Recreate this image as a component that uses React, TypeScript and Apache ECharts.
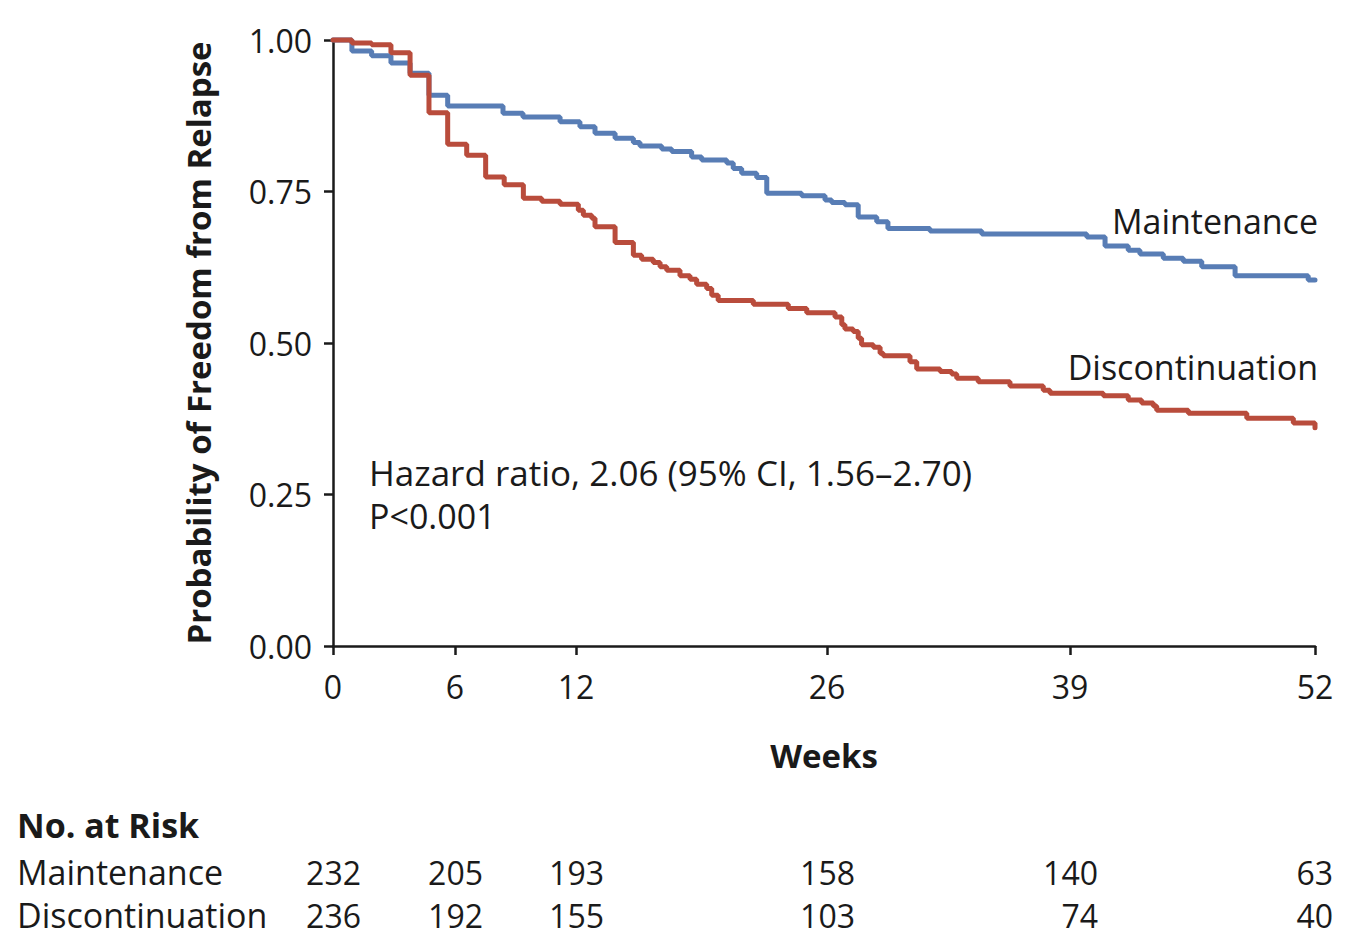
import React, { useEffect, useRef } from "react";
import * as echarts from "echarts";

// ---- data ----
const WEEK_TICKS = [0, 6, 12, 26, 39, 52];
const Y_TICKS = [0, 0.25, 0.5, 0.75, 1];

const MAINT_WEEKS = [0, 0.93, 1.9, 2.85, 3.79, 4.72, 5.64, 8.38, 9.37, 11.21, 12.22, 13.06, 14.18, 15.2, 15.57, 16.78, 17.34, 18.45, 19.01, 20.41, 20.77, 21.24, 22.08, 22.64, 24.59, 25.89, 26.25, 26.96, 27.67, 28.66, 29.26, 31.51, 34.28, 39.89, 40.86, 42.09, 42.71, 43.95, 45.01, 45.99, 47.76, 51.64, 52];
const MAINT_SURV = [1, 0.982, 0.974, 0.962, 0.945, 0.909, 0.891, 0.879, 0.873, 0.865, 0.857, 0.846, 0.838, 0.831, 0.825, 0.82, 0.816, 0.807, 0.802, 0.797, 0.788, 0.78, 0.773, 0.747, 0.743, 0.736, 0.732, 0.728, 0.708, 0.7, 0.689, 0.685, 0.68, 0.675, 0.66, 0.653, 0.647, 0.64, 0.635, 0.626, 0.611, 0.604, 0.604];

const DISC_WEEKS = [0, 0.93, 1.9, 2.85, 3.79, 4.72, 5.64, 6.58, 7.52, 8.44, 9.39, 10.3, 11.21, 12.13, 12.41, 12.88, 13.06, 14.18, 15.2, 15.66, 16.31, 16.69, 17.06, 17.8, 18.36, 18.73, 19.29, 19.57, 19.93, 21.89, 23.84, 24.87, 26.43, 26.79, 26.96, 27.4, 27.67, 27.85, 28.48, 28.84, 29.01, 30.44, 30.8, 32.05, 32.67, 32.94, 34.09, 35.79, 37.57, 37.93, 40.77, 42.09, 42.8, 43.42, 43.6, 45.28, 48.38, 50.85, 52];
const DISC_SURV = [1, 0.995, 0.992, 0.979, 0.942, 0.88, 0.828, 0.81, 0.774, 0.761, 0.739, 0.734, 0.729, 0.719, 0.711, 0.706, 0.692, 0.666, 0.645, 0.638, 0.633, 0.626, 0.62, 0.611, 0.605, 0.597, 0.59, 0.579, 0.57, 0.564, 0.557, 0.55, 0.543, 0.53, 0.523, 0.519, 0.508, 0.497, 0.493, 0.483, 0.479, 0.469, 0.457, 0.453, 0.449, 0.442, 0.436, 0.429, 0.422, 0.417, 0.413, 0.406, 0.401, 0.396, 0.389, 0.384, 0.376, 0.368, 0.36];

const RISK_MAINT = [232, 205, 193, 158, 140, 63];
const RISK_DISC = [236, 192, 155, 103, 74, 40];

const GROUPS = ["Maintenance", "Discontinuation"];
const Y_TITLE = "Probability of Freedom from Relapse";
const X_TITLE = "Weeks";
const HR_TEXT = "Hazard ratio, 2.06 (95% CI, 1.56\u20132.70)";
const P_TEXT = "P<0.001";
const RISK_TITLE = "No. at Risk";

// ---- layout (axis scale: the printed axis spaces its ticks unevenly) ----
const AXIS_STOPS = [0, 122, 243, 494, 737, 982];
function warp(w: number): number {
  for (let i = 0; i < WEEK_TICKS.length - 1; i++) {
    const a = WEEK_TICKS[i], b = WEEK_TICKS[i + 1];
    if (w <= b || i === WEEK_TICKS.length - 2) {
      return AXIS_STOPS[i] + ((w - a) / (b - a)) * (AXIS_STOPS[i + 1] - AXIS_STOPS[i]);
    }
  }
  return 0;
}

const FONT = '"Open Sans", "Noto Sans", sans-serif';
const INK = "#1a1a1a";
const BLUE = "#587db5";
const RED = "#b94c3c";
const FS = 32;

export default function App() {
  const ref = useRef<HTMLDivElement>(null);
  useEffect(() => {
    if (!ref.current) return;
    const chart = echarts.init(ref.current, null, { renderer: "svg" });
    const tickPos = WEEK_TICKS.map(warp);
    chart.setOption({
      animation: false,
      grid: { left: 333, top: 40, width: 982, height: 606, containLabel: false },
      xAxis: {
        type: "value",
        min: 0,
        max: AXIS_STOPS[AXIS_STOPS.length - 1],
        axisLine: { show: true, onZero: false, lineStyle: { color: INK, width: 2.5 } },
        axisTick: { show: true, customValues: tickPos, length: 9, lineStyle: { color: INK, width: 2.5 } },
        axisLabel: {
          customValues: tickPos,
          margin: 24,
          fontSize: FS,
          fontFamily: FONT,
          color: INK,
          formatter: (v: number) => {
            const i = tickPos.findIndex((p) => Math.abs(p - v) < 0.5);
            return i >= 0 ? String(WEEK_TICKS[i]) : "";
          },
        },
        splitLine: { show: false },
      },
      yAxis: {
        type: "value",
        min: 0,
        max: 1,
        interval: 0.25,
        axisLine: { show: true, lineStyle: { color: INK, width: 2.5 } },
        axisTick: { show: true, length: 9, lineStyle: { color: INK, width: 2.5 } },
        axisLabel: {
          margin: 21,
          fontSize: FS,
          fontFamily: FONT,
          color: INK,
          formatter: (v: number) => (Y_TICKS.indexOf(v) >= 0 ? v.toFixed(2) : ""),
        },
        splitLine: { show: false },
      },
      series: [
        {
          name: GROUPS[0],
          type: "line",
          step: "end",
          symbol: "none",
          clip: false,
          data: MAINT_WEEKS.map((w, i) => [warp(w), MAINT_SURV[i]]),
          lineStyle: { color: BLUE, width: 5, cap: "round" },
          z: 2,
        },
        {
          name: GROUPS[1],
          type: "line",
          step: "end",
          symbol: "none",
          clip: false,
          data: DISC_WEEKS.map((w, i) => [warp(w), DISC_SURV[i]]),
          lineStyle: { color: RED, width: 5, cap: "round" },
          z: 3,
        },
      ],
    });

    const px = (w: number, y: number) =>
      chart.convertToPixel({ gridIndex: 0 }, [warp(w), y]) as number[];
    const t = (text: string, x: number, y: number, align: string, size: number, bold = false, extra: any = {}) => ({
      type: "text",
      x,
      y,
      ...extra,
      style: {
        text,
        fill: INK,
        fontSize: size,
        fontFamily: FONT,
        fontWeight: bold ? "bold" : "normal",
        align,
        verticalAlign: "middle",
        textAlign: align,
        textVerticalAlign: "middle",
      },
    });
    const origin = px(0, 0);
    const end = px(52, 1);
    const graphics: any[] = [];
    graphics.push(t(Y_TITLE, 198, (origin[1] + end[1]) / 2, "center", 33, true, { rotation: Math.PI / 2 }));
    graphics.push(t(X_TITLE, (origin[0] + end[0]) / 2, 755, "center", 33, true));
    graphics.push(t(GROUPS[0], 1318, 221, "right", 34));
    graphics.push(t(GROUPS[1], 1318, 367, "right", 34));
    graphics.push(t(HR_TEXT, 369, 472, "left", 35));
    graphics.push(t(P_TEXT, 369, 516, "left", 34));
    graphics.push(t(RISK_TITLE, 17, 825, "left", 34, true));
    graphics.push(t(GROUPS[0], 17, 872, "left", 34));
    graphics.push(t(GROUPS[1], 17, 915, "left", 34));
    WEEK_TICKS.forEach((w, i) => {
      const x = Math.min(px(w, 0)[0] + 28, 1333);
      graphics.push(t(String(RISK_MAINT[i]), x, 872, "right", FS));
      graphics.push(t(String(RISK_DISC[i]), x, 915, "right", FS));
    });
    chart.setOption({ graphic: graphics });
    return () => chart.dispose();
  }, []);
  return (
    <div
      ref={ref}
      style={{ position: "fixed", left: 0, top: 0, width: 1346, height: 940, background: "#fff" }}
    />
  );
}
